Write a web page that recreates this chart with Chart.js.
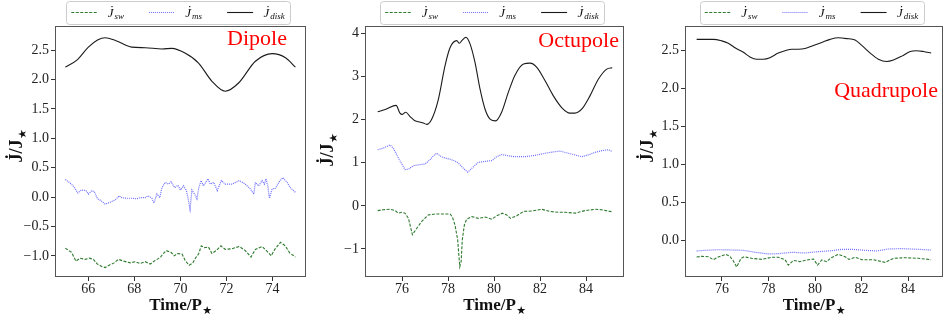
<!DOCTYPE html>
<html>
<head>
<meta charset="utf-8">
<script src="https://cdn.jsdelivr.net/npm/chart.js@4/dist/chart.umd.min.js"></script>
<style>
html, body { margin: 0; padding: 0; background: #fff; }
#wrap { position: relative; width: 943px; height: 322px; overflow: hidden; }
.panel { position: absolute; top: 0; height: 322px; }
canvas { display: block; }
</style>
</head>
<body>
<div id="wrap">
  <div class="panel" style="left:0;width:315px"><canvas id="dipole" width="315" height="322"></canvas></div>
  <div class="panel" style="left:315px;width:315px"><canvas id="octupole" width="315" height="322"></canvas></div>
  <div class="panel" style="left:630px;width:313px"><canvas id="quadrupole" width="313" height="322"></canvas></div>
</div>
<script>
// ---- Dipole ----
const dipoleDiskT = [65.0, 65.5, 66.0, 66.4, 66.73, 67.2, 67.89, 68.47, 69.2, 69.63, 70.2, 70.79, 71.37, 71.95, 72.53, 73.26, 73.99, 74.57, 75.0];
const dipoleDisk  = [2.21, 2.33, 2.55, 2.67, 2.71, 2.66, 2.55, 2.54, 2.52, 2.53, 2.45, 2.28, 1.97, 1.80, 1.94, 2.31, 2.44, 2.37, 2.21];

const dipoleMsT = [65.0, 65.27, 65.4, 65.54, 65.7, 65.9, 66.0, 66.15, 66.26, 66.4, 66.55, 66.73, 66.94, 67.16, 67.34, 67.45, 67.67, 67.89, 68.1, 68.25,
  68.47, 68.6, 68.76, 68.85, 68.98, 69.1, 69.2, 69.34, 69.48, 69.6, 69.75, 69.9, 70.0, 70.14, 70.26, 70.33, 70.42, 70.5, 70.62, 70.72,
  70.8, 70.9, 71.0, 71.2, 71.3, 71.45, 71.6, 71.78, 71.95, 72.24, 72.56, 72.82, 73.04, 73.19, 73.26, 73.4, 73.55, 73.65, 73.72, 73.8,
  73.87, 73.99, 74.13, 74.28, 74.45, 74.64, 74.78, 75.0];
const dipoleMs = [0.30, 0.22, 0.16, 0.07, 0.12, 0.11, 0.05, 0.11, 0.09, -0.03, -0.06, -0.12, -0.09, -0.05, 0.02, -0.01, -0.02, -0.02, -0.03, -0.01,
  -0.01, 0.02, -0.02, -0.10, 0.05, -0.01, 0.16, 0.25, 0.22, 0.26, 0.16, 0.20, 0.12, 0.19, 0.11, -0.01, -0.21, 0.12, 0.05, -0.03,
  0.16, 0.28, 0.19, 0.31, 0.22, 0.25, 0.11, 0.28, 0.22, 0.22, 0.28, 0.22, 0.14, 0.05, 0.25, 0.19, 0.28, 0.22, 0.31, 0.19,
  -0.02, 0.14, 0.15, 0.25, 0.33, 0.25, 0.16, 0.08];

const dipoleSwT = [65.0, 65.27, 65.46, 65.64, 65.86, 66.05, 66.22, 66.39, 66.58, 66.73, 66.94, 67.12, 67.31, 67.53, 67.82, 68.03, 68.25, 68.47, 68.69, 68.9,
  69.12, 69.24, 69.38, 69.59, 69.73, 69.88, 70.07, 70.21, 70.38, 70.54, 70.67, 70.79, 70.91, 71.05, 71.22, 71.37, 71.56, 71.76, 71.95, 72.24,
  72.56, 72.82, 73.07, 73.26, 73.55, 73.76, 73.95, 74.1, 74.35, 74.56, 74.75, 75.0];
const dipoleSw = [-0.87, -0.94, -1.09, -1.04, -1.06, -1.04, -1.06, -1.14, -1.18, -1.20, -1.15, -1.12, -1.06, -1.09, -1.12, -1.10, -1.13, -1.10, -1.14, -1.08,
  -1.03, -0.97, -0.91, -0.94, -1.00, -0.96, -0.97, -1.08, -1.16, -1.12, -1.03, -0.97, -0.83, -0.86, -0.85, -0.96, -0.91, -0.83, -0.89, -0.88,
  -0.84, -0.91, -1.02, -0.89, -0.84, -0.92, -1.00, -0.89, -0.77, -0.83, -0.95, -1.02];

// ---- Octupole ----
const octDiskT = [74.94, 75.3, 75.74, 75.91, 76.0, 76.16, 76.35, 76.54, 76.71, 76.93, 77.07, 77.29, 77.58, 77.87, 78.09, 78.38, 78.49, 78.6, 78.78, 78.96,
  79.17, 79.39, 79.61, 79.83, 80.07, 80.33, 80.62, 80.91, 81.28, 81.57, 81.86, 82.22, 82.58, 82.94, 83.3, 83.52, 83.81, 84.17, 84.54, 84.9, 85.14];
const octDisk = [2.18, 2.24, 2.33, 2.15, 2.12, 2.17, 2.07, 1.98, 1.95, 1.92, 1.89, 2.01, 2.47, 3.25, 3.67, 3.83, 3.77, 3.83, 3.91, 3.75,
  3.33, 2.71, 2.24, 2.01, 1.97, 2.17, 2.63, 3.03, 3.29, 3.31, 3.21, 2.90, 2.55, 2.28, 2.15, 2.15, 2.24, 2.55, 2.94, 3.17, 3.20];

const octMsT = [74.94, 75.19, 75.48, 75.62, 75.84, 76.13, 76.28, 76.49, 76.71, 77.0, 77.22, 77.36, 77.51, 77.7, 77.87, 78.09, 78.3, 78.45, 78.67, 78.86,
  79.03, 79.32, 79.61, 79.9, 80.12, 80.33, 80.62, 80.91, 81.35, 81.78, 82.22, 82.58, 82.87, 83.23, 83.52, 83.81, 84.1, 84.39, 84.68, 84.97, 85.14];
const octMs = [1.30, 1.34, 1.41, 1.34, 1.11, 0.84, 0.85, 0.93, 0.95, 0.97, 1.07, 1.16, 1.22, 1.14, 1.11, 1.08, 1.04, 0.99, 0.87, 0.78,
  0.87, 1.01, 1.03, 1.05, 1.14, 1.19, 1.16, 1.14, 1.14, 1.17, 1.22, 1.25, 1.27, 1.22, 1.18, 1.14, 1.18, 1.24, 1.28, 1.30, 1.26];

const octSwT = [74.94, 75.19, 75.48, 75.7, 75.84, 75.99, 76.13, 76.28, 76.45, 76.64, 76.86, 77.14, 77.43, 77.8, 78.09, 78.19, 78.3, 78.42, 78.51, 78.57,
  78.62, 78.71, 78.81, 79.03, 79.32, 79.61, 79.9, 80.12, 80.36, 80.55, 80.72, 80.99, 81.28, 81.64, 82.07, 82.43, 82.8, 83.09, 83.52, 83.96,
  84.39, 84.68, 85.14];
const octSw = [-0.11, -0.09, -0.08, -0.11, -0.17, -0.15, -0.17, -0.29, -0.67, -0.52, -0.36, -0.21, -0.19, -0.19, -0.19, -0.26, -0.44, -0.79, -1.41, -1.29,
  -0.79, -0.44, -0.31, -0.25, -0.29, -0.26, -0.31, -0.23, -0.17, -0.21, -0.29, -0.23, -0.13, -0.12, -0.08, -0.13, -0.15, -0.15, -0.17, -0.11,
  -0.08, -0.09, -0.14];

// ---- Quadrupole ----
const quadDiskT = [74.91, 75.27, 75.63, 75.99, 76.27, 76.56, 76.92, 77.2, 77.49, 77.78, 78.06, 78.42, 78.71, 79.0, 79.28, 79.57, 79.93, 80.29, 80.65, 81.0,
  81.36, 81.72, 82.01, 82.37, 82.72, 83.08, 83.37, 83.73, 84.09, 84.37, 84.66, 84.99];
const quadDisk = [2.64, 2.64, 2.64, 2.62, 2.59, 2.53, 2.47, 2.41, 2.38, 2.38, 2.40, 2.46, 2.49, 2.51, 2.51, 2.52, 2.56, 2.60, 2.64, 2.66,
  2.65, 2.63, 2.56, 2.46, 2.38, 2.35, 2.37, 2.42, 2.48, 2.49, 2.48, 2.46];

const quadMsT = [74.91, 75.27, 75.84, 76.42, 76.92, 77.42, 77.99, 78.42, 79.0, 79.57, 80.14, 80.72, 81.15, 81.58, 82.15, 82.65, 83.15, 83.73, 84.44, 84.99];
const quadMs = [-0.135, -0.126, -0.118, -0.122, -0.126, -0.152, -0.174, -0.17, -0.152, -0.161, -0.144, -0.131, -0.113, -0.113, -0.126, -0.135, -0.109, -0.104, -0.113, -0.122];

const quadSwT = [74.91, 75.13, 75.41, 75.63, 75.84, 76.16, 76.34, 76.49, 76.63, 76.82, 76.96, 77.28, 77.71, 78.14, 78.42, 78.71, 78.85, 79.07, 79.35, 79.64,
  79.93, 80.11, 80.29, 80.5, 80.69, 81.0, 81.29, 81.46, 81.72, 82.01, 82.51, 83.01, 83.37, 83.87, 84.44, 84.99];
const quadSw = [-0.214, -0.205, -0.21, -0.249, -0.214, -0.179, -0.205, -0.266, -0.345, -0.231, -0.21, -0.231, -0.245, -0.218, -0.218, -0.249, -0.319, -0.258, -0.275, -0.253,
  -0.24, -0.319, -0.253, -0.275, -0.223, -0.179, -0.21, -0.245, -0.218, -0.249, -0.249, -0.284, -0.231, -0.223, -0.231, -0.249];

// ---- ticks ----
const dipoleXTicks = [66, 68, 70, 72, 74];
const dipoleYTicks = [-1.0, -0.5, 0.0, 0.5, 1.0, 1.5, 2.0, 2.5];
const octXTicks = [76, 78, 80, 82, 84];
const octYTicks = [-1, 0, 1, 2, 3, 4];
const quadXTicks = [76, 78, 80, 82, 84];
const quadYTicks = [0.0, 0.5, 1.0, 1.5, 2.0, 2.5];

const SERIF = '"Liberation Serif", "DejaVu Serif", serif';
const swColor = '#2e7a2e';
const msColor = 'rgba(60,60,255,0.75)';
const diskColor = '#1a1a1a';

function pts(t, v) { return t.map((x, i) => ({ x: x, y: v[i] })); }

function series(swT, sw, msT, ms, diskT, disk) {
  return [
    { sub: 'sw', data: pts(swT, sw), borderColor: swColor, borderWidth: 1.1, borderDash: [3, 1.5], tension: 0 },
    { sub: 'ms', data: pts(msT, ms), borderColor: msColor, borderWidth: 1.2, borderDash: [1, 1], tension: 0 },
    { sub: 'disk', data: pts(diskT, disk), borderColor: diskColor, borderWidth: 1.1, cubicInterpolationMode: 'monotone' }
  ];
}

function fmt(v, dec) {
  return v.toFixed(dec).replace('-', '\u2212');
}

// draws "J" + dot above, returns advance
function dottedJ(ctx, x, y, font, size) {
  ctx.font = font;
  const w = ctx.measureText('J').width;
  ctx.fillText('J', x, y);
  ctx.save();
  ctx.textAlign = 'center';
  ctx.fillText('\u02D9', x + w * 0.62, y - size * 0.22);
  ctx.restore();
  return w;
}

const decor = {
  id: 'decor',
  afterDraw(chart, args, o) {
    const ctx = chart.ctx;
    const a = chart.chartArea;
    ctx.save();
    // frame
    ctx.strokeStyle = '#555';
    ctx.lineWidth = 1;
    ctx.strokeRect(a.left + 0.5, a.top + 0.5, a.right - a.left - 1, a.bottom - a.top - 1);

    // panel name
    ctx.fillStyle = '#ff0000';
    ctx.font = '22px ' + SERIF;
    ctx.textAlign = 'right';
    ctx.textBaseline = 'alphabetic';
    ctx.fillText(o.name, a.right - o.nameDx, a.top + o.nameDy);

    // x title
    ctx.fillStyle = '#111';
    ctx.textAlign = 'left';
    const starFont = '11px "DejaVu Sans"';
    ctx.font = 'bold 17px ' + SERIF;
    const xt = 'Time/P';
    const w1 = ctx.measureText(xt).width;
    ctx.font = starFont;
    const w2 = ctx.measureText('\u2605').width;
    let x0 = (a.left + a.right) / 2 - (w1 + w2) / 2;
    ctx.font = 'bold 17px ' + SERIF;
    ctx.fillText(xt, x0, 310);
    ctx.font = starFont;
    ctx.fillText('\u2605', x0 + w1 + 0.5, 314);

    // y title (rotated)
    ctx.save();
    ctx.translate(o.yTitleX, o.yTitleY);
    ctx.rotate(-Math.PI / 2);
    const yFont = 'bold 18px ' + SERIF;
    ctx.font = yFont;
    const jw = ctx.measureText('J').width;
    const sw = ctx.measureText('/J').width;
    const tot = jw + sw + w2;
    let cx = -tot / 2;
    const by = 6;
    dottedJ(ctx, cx, by, yFont, 18);
    ctx.font = yFont;
    ctx.fillText('/J', cx + jw, by);
    ctx.font = starFont;
    ctx.fillText('\u2605', cx + jw + sw + 0.5, by + 4);
    ctx.restore();

    // legend
    const ds = chart.data.datasets;
    const mainFont = 'italic 13px ' + SERIF;
    const subFont = 'italic 9px ' + SERIF;
    const widths = ds.map(d => {
      ctx.font = mainFont;
      const a1 = ctx.measureText('J').width;
      ctx.font = subFont;
      return a1 + 1 + ctx.measureText(d.sub).width;
    });
    const pad = 5, handle = 26, hgap = 10.4, colgap = 25;
    let total = pad * 2 + widths.reduce((s, w) => s + w, 0) + ds.length * (handle + hgap) + (ds.length - 1) * colgap;
    const lx = (a.left + a.right) / 2 - 2.5 - total / 2;
    const ly = 1, lh = 23;
    ctx.fillStyle = 'rgba(255,255,255,0.9)';
    ctx.strokeStyle = '#cccccc';
    ctx.lineWidth = 1;
    ctx.beginPath();
    ctx.roundRect(Math.round(lx) + 0.5, ly + 0.5, Math.round(total), lh, 3);
    ctx.fill();
    ctx.stroke();
    let cxl = lx + pad;
    ds.forEach((d, i) => {
      ctx.strokeStyle = d.borderColor;
      ctx.lineWidth = d.borderWidth;
      ctx.setLineDash(d.borderDash || []);
      ctx.beginPath();
      ctx.moveTo(cxl, 12.5);
      ctx.lineTo(cxl + handle, 12.5);
      ctx.stroke();
      ctx.setLineDash([]);
      cxl += handle + hgap;
      ctx.fillStyle = '#111';
      const jwid = dottedJ(ctx, cxl, 16.5, mainFont, 13);
      ctx.font = subFont;
      ctx.fillText(d.sub, cxl + jwid + 1, 19);
      cxl += widths[i] + colgap;
    });
    ctx.restore();
  }
};

const panels = [
  { id: 'dipole', name: 'Dipole', w: 315, left: 55, right: 306, x: [64.55, 75.46], y: [-1.36, 2.91],
    xTicks: dipoleXTicks, yTicks: dipoleYTicks, dec: 1, nameDx: 19, nameDy: 19, yTitleX: 16, yTitleY: 146,
    ds: series(dipoleSwT, dipoleSw, dipoleMsT, dipoleMs, dipoleDiskT, dipoleDisk) },
  { id: 'octupole', name: 'Octupole', w: 315, left: 50, right: 309, x: [74.39, 85.65], y: [-1.65, 4.17],
    xTicks: octXTicks, yTicks: octYTicks, dec: 0, nameDx: 5, nameDy: 21, yTitleX: 12, yTitleY: 150,
    ds: series(octSwT, octSw, octMsT, octMs, octDiskT, octDisk) },
  { id: 'quadrupole', name: 'Quadrupole', w: 313, left: 55, right: 313, x: [74.41, 85.5], y: [-0.476, 2.815],
    xTicks: quadXTicks, yTicks: quadYTicks, dec: 1, nameDx: 5, nameDy: 71, yTitleX: 17, yTitleY: 146,
    ds: series(quadSwT, quadSw, quadMsT, quadMs, quadDiskT, quadDisk) }
];

panels.forEach(p => {
  const tickFont = { family: SERIF, size: 14 };
  new Chart(document.getElementById(p.id), {
    type: 'line',
    data: { datasets: p.ds },
    options: {
      responsive: false,
      animation: false,
      events: [],
      layout: { padding: { left: 0, top: 26, right: p.w - p.right, bottom: 0 } },
      elements: { point: { radius: 0 }, line: { borderCapStyle: 'butt' } },
      plugins: {
        legend: { display: false },
        tooltip: { enabled: false },
        decor: { name: p.name, nameDx: p.nameDx, nameDy: p.nameDy, yTitleX: p.yTitleX, yTitleY: p.yTitleY }
      },
      scales: {
        x: {
          type: 'linear', min: p.x[0], max: p.x[1],
          afterBuildTicks: s => { s.ticks = p.xTicks.map(v => ({ value: v })); },
          afterFit: s => { s.height = 45; },
          ticks: { font: tickFont, color: '#222', padding: 0, maxRotation: 0, callback: v => fmt(v, 0) },
          grid: { drawOnChartArea: false, drawTicks: true, tickLength: 4, color: '#333' },
          border: { display: false }
        },
        y: {
          type: 'linear', min: p.y[0], max: p.y[1],
          afterBuildTicks: s => { s.ticks = p.yTicks.map(v => ({ value: v })); },
          afterFit: s => { s.width = p.left; },
          ticks: { font: tickFont, color: '#222', padding: 2, callback: v => fmt(v, p.dec) },
          grid: { drawOnChartArea: false, drawTicks: true, tickLength: 4, color: '#333' },
          border: { display: false }
        }
      }
    },
    plugins: [decor]
  });
});
</script>
</body>
</html>
